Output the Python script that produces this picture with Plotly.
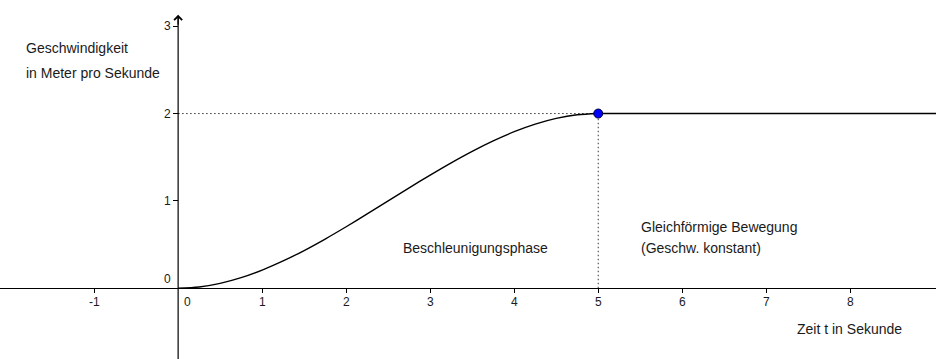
import plotly.graph_objects as go

# Data
t_accel = [0, 0.25, 0.5, 0.75, 1, 1.25, 1.5, 1.75, 2, 2.25, 2.5, 2.75, 3, 3.25, 3.5, 3.75, 4, 4.25, 4.5, 4.75, 5]
v_accel = [0, 0.0145, 0.056, 0.1215, 0.208, 0.3125, 0.432, 0.5635, 0.704, 0.8505, 1.0, 1.1495,
           1.296, 1.4365, 1.568, 1.6875, 1.792, 1.8785, 1.944, 1.9855, 2.0]
t_const = [5, 9.2]
v_const = [2, 2]
point_t = [5]
point_v = [2]

x_ticks = [-1, 0, 1, 2, 3, 4, 5, 6, 7, 8]
y_ticks = [0, 1, 2, 3]

X_RANGE = [-2.12, 9.02]
Y_RANGE = [-0.81, 3.30]

FONT = "Liberation Sans, Arial, sans-serif"
TXT = "#1a1a1a"

fig = go.Figure()

# dotted guide lines
fig.add_trace(go.Scatter(x=[0, point_t[0]], y=[point_v[0], point_v[0]], mode="lines",
                         line=dict(color="#333333", width=1, dash="1.5px,2.5px"), hoverinfo="skip"))
fig.add_trace(go.Scatter(x=[point_t[0], point_t[0]], y=[0, point_v[0]], mode="lines",
                         line=dict(color="#333333", width=1, dash="1.5px,2.5px"), hoverinfo="skip"))

# curve
fig.add_trace(go.Scatter(x=t_accel, y=v_accel, mode="lines", line=dict(color="black", width=1.4, shape="spline", smoothing=0.8)))
fig.add_trace(go.Scatter(x=t_const, y=v_const, mode="lines", line=dict(color="black", width=1.4)))

# y axis line
fig.add_trace(go.Scatter(x=[0, 0], y=[Y_RANGE[0], 3.12], mode="lines", line=dict(color="black", width=1.2),
                         hoverinfo="skip"))

# point
fig.add_trace(go.Scatter(x=point_t, y=point_v, mode="markers",
                         marker=dict(color="#0000ff", size=9, line=dict(color="#000033", width=1))))

yfrac = (0 - Y_RANGE[0]) / (Y_RANGE[1] - Y_RANGE[0])
xfrac = (0 - X_RANGE[0]) / (X_RANGE[1] - X_RANGE[0])

fig.update_layout(
    width=936, height=359,
    margin=dict(l=0, r=0, t=0, b=0),
    paper_bgcolor="white", plot_bgcolor="white",
    showlegend=False,
    font=dict(family=FONT, size=12, color=TXT),
    xaxis=dict(range=X_RANGE, showgrid=False, zeroline=False, showline=True, linecolor="black", linewidth=1.2,
               anchor="free", position=yfrac, side="bottom",
               tickmode="array", tickvals=[v for v in x_ticks if v != 0], ticks="outside", ticklen=4,
               tickcolor="black", tickwidth=1, showticklabels=False, fixedrange=True),
    yaxis=dict(range=Y_RANGE, showgrid=False, zeroline=False, showline=False,
               anchor="free", position=xfrac, side="left",
               tickmode="array", tickvals=[v for v in y_ticks if v != 0], ticks="outside", ticklen=5,
               tickcolor="black", tickwidth=1, showticklabels=False, fixedrange=True),
)

ann = []
# arrow head on y axis
ann.append(dict(x=0, y=3.13, ax=0, ay=3.0, xref="x", yref="y", axref="x", ayref="y",
                showarrow=True, arrowhead=4, arrowsize=1.3, arrowwidth=1.2, arrowcolor="black", text=""))

for v in x_ticks:
    if v == 0:
        ann.append(dict(x=v, y=0, xref="x", yref="y", text=str(v), showarrow=False,
                        xanchor="left", yanchor="top", xshift=4, yshift=-5, font=dict(size=12)))
    else:
        ann.append(dict(x=v, y=0, xref="x", yref="y", text=str(v), showarrow=False,
                        xanchor="center", yanchor="top", yshift=-5, font=dict(size=12)))
for v in y_ticks:
    if v == 0:
        ann.append(dict(x=0, y=v, xref="x", yref="y", text=str(v), showarrow=False,
                        xanchor="right", yanchor="bottom", xshift=-5, yshift=0, font=dict(size=12)))
    else:
        ann.append(dict(x=0, y=v, xref="x", yref="y", text=str(v), showarrow=False,
                        xanchor="right", yanchor="middle", xshift=-5, font=dict(size=12)))

labels = [
    ("Geschwindigkeit", -1.833, 2.75),
    ("in Meter pro Sekunde", -1.833, 2.465),
    ("Beschleunigungsphase", 2.655, 0.458),
    ("Gleichförmige Bewegung", 5.488, 0.698),
    ("(Geschw. konstant)", 5.488, 0.458),
    ("Zeit t in Sekunde", 7.345, -0.469),
]
for text, x, y in labels:
    ann.append(dict(x=x, y=y, xref="x", yref="y", text=text, showarrow=False,
                    xanchor="left", yanchor="middle", font=dict(size=14)))

fig.update_layout(annotations=ann)
fig.write_html("out.html", config={"displayModeBar": False},
               post_script="document.body.style.margin='0';document.body.style.padding='0';")
